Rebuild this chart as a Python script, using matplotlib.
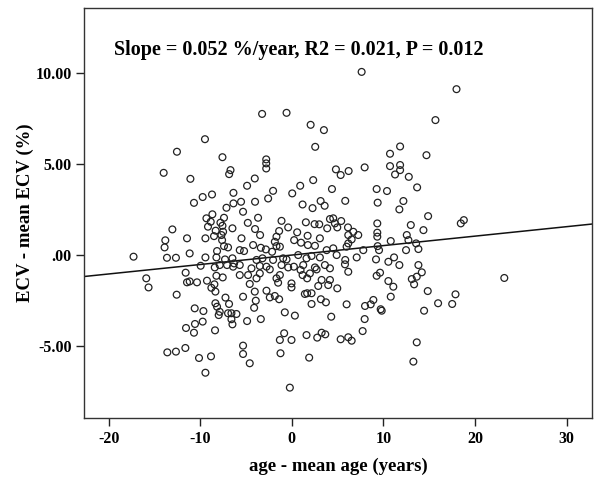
import matplotlib
matplotlib.use("Agg")
import matplotlib.pyplot as plt
import numpy as np

age_diff = [
    -9.49, -12.55, -7.58, -14.0, -11.08, -6.7, -6.85,
    -3.25, -0.58, 2.05, 3.5, 2.55, -2.8, -2.8, -2.8, -4.05, 2.33, 4.81, 5.33, 6.2,
    7.62, 17.98, 15.68, 11.82, 10.72, 14.7, 10.72, 11.82, 11.82, 11.27, 12.77, 7.95,
    -8.72, -9.74, -10.69, -7.14, -8.68, -9.33, -8.86, -9.16, -7.41, -7.8, -8.32, -7.51,
    -13.05, -11.45, -9.44, -8.5, -7.62, -13.82, -13.9, -7.41, -8.17, -11.16, -17.29,
    -13.64, -12.66, -9.44, -8.24, -7.3, -9.96, -8.42,
    -15.9, -15.65, -11.6, -11.45, -11.16, -10.36, -9.27, -8.79, -8.46, -8.24, -7.55,
    -8.35, -7.88, -7.08, -12.58, -7.25, -10.61, -9.66, -8.35, -8.17, -7.99, -7.88,
    -6.97, -11.56, -10.69, -10.58, -9.74, -8.39, -13.6, -12.66, -11.63, -10.14, -8.83, -9.44,
    -4.89, -6.38, -2.05, -2.59, -4.02, 0.04, 0.91, 4.38, -6.38, -5.55, -5.33, 1.17, 2.26,
    3.14, 3.58, 5.83, -3.69, -1.13, -4.81, -4.02, -3.47, -7.58, -6.49, -7.69, -5.5, -1.39,
    -0.4, 0.58, 1.53, 2.48, 2.99, 1.72, 4.16, 4.52, 4.7, 5.39, 3.86, 4.96, 6.13, 3.06,
    -1.68, -1.86, -1.68, -1.31, 0.25, 1.0, 1.75, 2.52, 3.8, 4.52, 5.98, -4.23, -3.39,
    -2.84, -2.16, -5.69, -5.22, -6.97, -6.49, -6.31, -3.86, -3.21, -2.05, -0.95, -0.58,
    0.69, 1.6, 2.15, 3.06, 4.89, 5.83, -6.42, -5.69, -3.5, -2.77, -1.13, 0.22, 1.24, 2.52,
    3.61, 4.16,
    -5.69, -4.78, -4.41, -3.5, -3.86, -2.41, -1.68, -1.31, -1.5, -0.4, -0.04, -0.04, 0.95,
    1.17, 1.67, 1.97, 2.7, 2.88, 3.25, 3.97, 4.16, 4.96, 6.16, -4.6, -4.05, -5.33, -2.77,
    -2.41, -1.86, -1.39, -3.94, 1.42, 1.67, 2.15, 3.17, 3.72, -6.86, -4.12, 2.15, 5.98,
    -6.6, -6.05, -6.6, -6.49, -4.89, -3.39, -0.77, 0.33, 4.3, -0.84, -1.31, -0.04, 1.6,
    2.77, 3.25, 3.65, 5.33, 6.16, -5.33, -5.33, -4.6, -1.24, 1.89, -0.22,
    13.68, 9.26, 10.39, 9.37, 12.18, 11.74, 14.88, 18.45, 18.78, 6.71, 6.16, 7.25, 6.53,
    6.16, 9.33, 9.33, 9.33, 9.37, 9.52, 10.8, 12.99, 14.37, 12.55, 12.73, 13.57, 13.82,
    12.47, 7.8, 7.08, 9.19, 10.54, 11.16, 5.8, 11.74, 13.82,
    9.63, 9.26, 10.54, 11.08, 14.19, 13.64, 13.1, 13.35, 14.84, 17.87, 17.51, 15.97,
    14.44, 10.8, 7.99, 8.61, 8.9, 9.7, 9.81, 7.95, 7.73, 6.53, 13.64, 13.27, 23.2,
]

ecv_diff = [
    6.37, 5.68, 5.38, 4.52, 4.19, 4.67, 4.45,
    7.76, 7.82, 7.16, 6.87, 5.95, 5.26, 5.04, 4.76, 4.21, 4.12, 4.71, 4.4, 4.62,
    10.07, 9.12, 7.42, 5.97, 5.57, 5.49, 4.89, 4.95, 4.67, 4.43, 4.3, 4.82,
    3.33, 3.19, 2.87, 2.6, 2.24, 2.02, 1.83, 1.56, 2.05, 1.78, 1.34, 1.28,
    1.41, 0.92, 0.92, 1.04, 0.82, 0.81, 0.42, 0.49, 0.22, 0.09, -0.09,
    -0.15, -0.15, -0.13, -0.13, -0.24, -0.59, -0.68,
    -1.28, -1.78, -0.97, -1.5, -1.45, -1.5, -1.41, -1.8, -1.61, -1.14, -1.23,
    -2.01, -0.55, -0.55, -2.18, -2.34, -2.93, -3.08, -2.65, -2.84, -3.3, -3.12,
    -3.2, -4.01, -4.27, -3.79, -3.66, -4.14, -5.35, -5.31, -5.11, -5.66, -5.57, -6.47,
    3.81, 3.42, 3.53, 3.11, 2.93, 3.39, 3.81, 3.63, 2.84, 2.93, 2.38, 2.78, 2.58,
    2.97, 2.71, 2.98, 2.05, 1.88, 1.77, 1.43, 1.1, 1.61, 1.47, 1.1, 0.92, 1.32,
    1.52, 1.25, 1.8, 1.7, 1.69, 1.06, 1.98, 2.02, 1.74, 1.87, 1.47, 1.52, 1.52, 0.92,
    1.01, 0.73, 0.49, 0.46, 0.82, 0.68, 0.55, 0.51, 0.27, 0.37, 0.46, 0.55, 0.4,
    0.31, 0.18, 0.27, 0.22, 0.42, -0.18, -0.46, -0.27, -0.18, -0.27, -0.18, -0.24,
    0.0, -0.18, -0.05, -0.13, 0.0, -0.27, -0.64, -0.55, -0.6, -0.64, -0.55, -0.64, -0.55, -0.68,
    -0.55, -0.73,
    -1.1, -1.1, -0.73, -1.01, -1.28, -0.79, -1.28, -1.1, -1.52, -0.68, -1.56, -1.78, -0.82,
    -1.1, -1.28, -1.01, -0.79, -1.7, -1.37, -1.65, -1.37, -1.83, -0.92, -1.59, -2.01, -2.29, -1.96,
    -2.33, -2.25, -2.43, -2.51, -2.14, -2.1, -2.1, -2.43, -2.6, -2.69, -2.9, -2.69, -2.71,
    -3.2, -3.24, -3.53, -3.81, -3.63, -3.52, -3.15, -3.33, -3.39, -4.3, -4.67, -4.67, -4.4,
    -4.54, -4.27, -4.36, -4.63, -4.52, -4.98, -5.44, -5.95, -5.4, -5.64, -7.29,
    3.72, 3.63, 3.52, 2.88, 2.97, 2.51, 2.14, 1.74, 1.92, 1.28, 1.1, 1.1, 0.86,
    0.64, 1.74, 1.23, 1.01, 0.49, 0.27, 0.77, 1.65, 1.37, 1.1, 0.82, 0.64, 0.33,
    0.27, 0.27, -0.13, -0.24, -0.37, -0.13, -0.51, -0.55, -0.55,
    -0.97, -1.14, -1.43, -1.74, -0.95, -1.19, -1.32, -1.61, -1.98, -2.16, -2.69, -2.65,
    -3.06, -2.29, -2.8, -2.71, -2.47, -2.98, -3.06, -3.52, -4.18, -4.71, -4.8, -5.86, -1.26,
]

slope = 0.052
intercept = 0.0
annotation = "Slope = 0.052 %/year, R2 = 0.021, P = 0.012"
x_ticks = [-20, -10, 0, 10, 20, 30]
y_ticks = [-5.0, 0.0, 5.0, 10.0]
y_tick_labels = ["-5.00", ".00", "5.00", "10.00"]

plt.rcParams['font.family'] = ['Liberation Serif', 'DejaVu Serif']

fig = plt.figure(figsize=(6.0, 4.78), dpi=100)
ax = fig.add_axes([0.14, 0.1255, 0.847, 0.8584])

ax.scatter(age_diff, ecv_diff, s=24, facecolors='none', edgecolors='#222222',
           linewidths=0.9, zorder=3)

xlim = (-22.7, 32.8)
ylim = (-8.96, 13.6)
xs = np.array(xlim)
ax.plot(xs, intercept + slope * xs, color='#111111', lw=1.1, zorder=2)

ax.set_xlim(*xlim)
ax.set_ylim(*ylim)
ax.set_xticks(x_ticks)
ax.set_xticklabels([str(t) for t in x_ticks])
ax.set_yticks(y_ticks)
ax.set_yticklabels(y_tick_labels)
for lab in ax.get_xticklabels() + ax.get_yticklabels():
    lab.set_fontweight('bold')
    lab.set_fontsize(11.5)
ax.tick_params(axis='both', direction='out', length=6, width=1, color='#222222', pad=3)
for sp in ax.spines.values():
    sp.set_color('#333333')
    sp.set_linewidth(1.0)

ax.set_xlabel("age - mean age (years)", fontsize=13.5, fontweight='bold', labelpad=8)
ax.set_ylabel("ECV - mean ECV (%)", fontsize=13.5, fontweight='bold', labelpad=1)

ax.text(0.059, 0.897, annotation, transform=ax.transAxes, fontsize=14.5,
        fontweight='bold', va='center', ha='left')

fig.savefig("out.png", dpi=100)
